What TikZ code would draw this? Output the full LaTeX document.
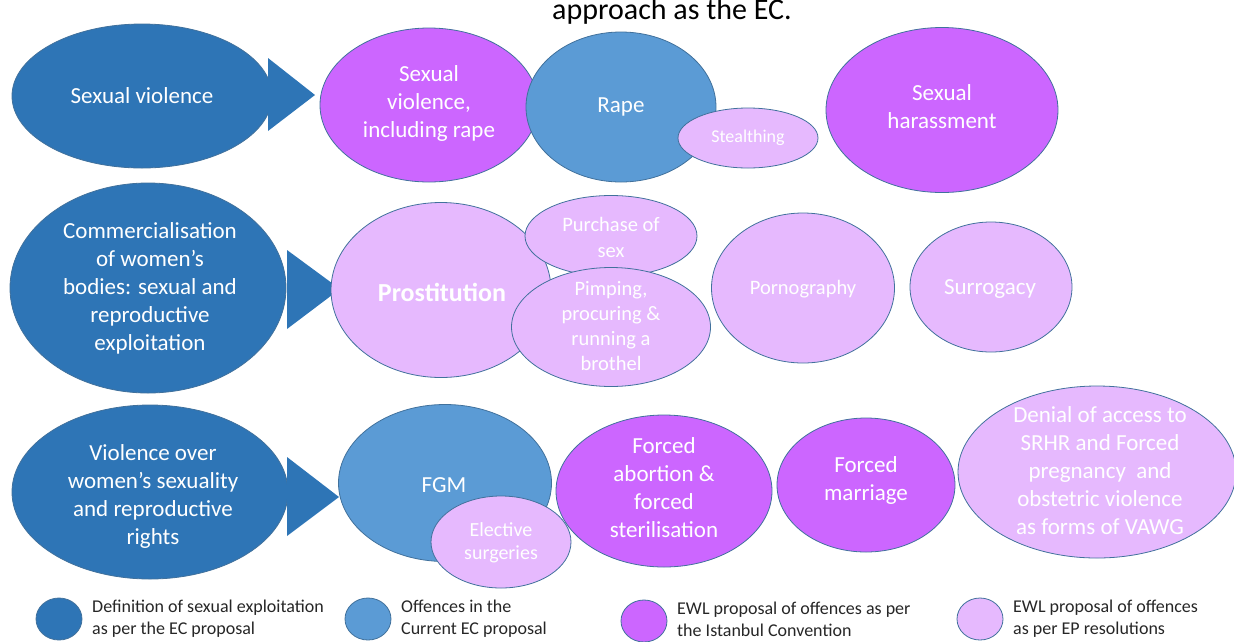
\documentclass[tikz,border=0pt]{standalone}
\usepackage{fontspec}
\setmainfont{Carlito}
\usetikzlibrary{shapes.geometric}
\definecolor{ecdark}{HTML}{2E75B6}
\definecolor{ecmid}{HTML}{5B9BD5}
\definecolor{ewlic}{HTML}{CC66FF}
\definecolor{ewlep}{HTML}{E6B9FE}
\definecolor{rim}{HTML}{41719C}

\begin{document}
\begin{tikzpicture}[x=1pt, y=-1pt,
	blob/.style={ellipse, draw=rim, line width=0.8pt, inner sep=0pt},
	txt/.style={text=white, align=center, inner sep=0pt, font=\fontsize{23}{28}\selectfont},
	small/.style={txt, font=\fontsize{20.5}{25}\selectfont},
	key/.style={blob, minimum width=46, minimum height=42},
	keytxt/.style={anchor=north west, align=left, inner sep=0pt, text=black!85, font=\fontsize{18}{22}\selectfont}]
		\useasboundingbox (0,0) rectangle (1234,641);
		\node[anchor=base, inner sep=0pt, font=\fontsize{30}{36}\selectfont] (title) at (672,19) {approach as the EC.};
		
		% first row
		\node[blob, fill=ecdark, minimum width=260, minimum height=144] (sv) at (142,96) {};
		\node[txt] (sv-t) at (sv) {Sexual violence};
		\fill[ecdark] (268,58) -- (315,95) -- (268,131) -- cycle;
		\node[blob, fill=ewlic, minimum width=218, minimum height=154] (svr) at (429,105) {};
		\node[txt] (svr-t) at (429,103) {Sexual\\violence,\\including rape};
		\node[blob, fill=ecmid, minimum width=190, minimum height=150] (rape) at (621,107) {};
		\node[txt] (rape-t) at (rape) {Rape};
		\node[blob, fill=ewlep, minimum width=140, minimum height=60] (stealth) at (748,138) {};
		\node[txt, font=\fontsize{18}{22}\selectfont] (stealth-t) at (stealth) {Stealthing};
		\node[blob, fill=ewlic, minimum width=232, minimum height=165] (harass) at (942,110) {};
		\node[txt] (harass-t) at (942,107) {Sexual\\harassment};
		
		% second row
		\node[blob, fill=ecdark, minimum width=276, minimum height=210] (comm) at (148,288) {};
		\node[txt] (comm-t) at (150,288) {Commercialisation\\of women’s\\bodies: sexual and\\reproductive\\exploitation};
		\fill[ecdark] (287,250) -- (340,289) -- (287,329) -- cycle;
		\node[blob, fill=ewlep, minimum width=220, minimum height=175] (prost) at (441,290) {};
		\node[txt, font=\fontsize{26}{30}\selectfont\bfseries] (prost-t) at (442,292) {Prostitution};
		\node[blob, fill=ewlep, minimum width=172, minimum height=81] (purch) at (611,236) {};
		\node[small, font=\fontsize{20.5}{26}\selectfont] (purch-t) at (611,237) {Purchase of\\sex};
		\node[blob, fill=ewlep, minimum width=199, minimum height=119] (pimp) at (611,327) {};
		\node[small] (pimp-t) at (611,326) {Pimping,\\procuring \&\\running a\\brothel};
		\node[blob, fill=ewlep, minimum width=183, minimum height=150] (porn) at (803,288) {};
		\node[small] (porn-t) at (803,289) {Pornography};
		\node[blob, fill=ewlep, minimum width=162, minimum height=130] (surr) at (991,287) {};
		\node[txt] (surr-t) at (990,289) {Surrogacy};
		
		% third row
		\node[blob, fill=ecdark, minimum width=276, minimum height=174] (viol) at (150,492) {};
		\node[txt] (viol-t) at (153,496) {Violence over\\women’s sexuality\\and reproductive\\rights};
		\fill[ecdark] (287,457) -- (339,497) -- (287,536) -- cycle;
		\node[blob, fill=ecmid, minimum width=213, minimum height=157] (fgm) at (445,483) {};
		\node[txt] (fgm-t) at (444,485) {FGM};
		\node[blob, fill=ewlep, minimum width=140, minimum height=92] (elect) at (501,542) {};
		\node[small, font=\fontsize{20}{23}\selectfont] (elect-t) at (501,543) {Elective\\surgeries};
		\node[blob, fill=ewlic, minimum width=216, minimum height=152] (abort) at (664,491) {};
		\node[txt] (abort-t) at (664,488) {Forced\\abortion \&\\forced\\sterilisation};
		\node[blob, fill=ewlic, minimum width=178, minimum height=134] (marr) at (866,485) {};
		\node[txt] (marr-t) at (866,480) {Forced\\marriage};
		\node[blob, fill=ewlep, minimum width=278, minimum height=172] (denial) at (1097,472) {};
		\node[txt] (denial-t) at (1100,471) {Denial of access to\\SRHR and Forced\\pregnancy\ \ and\\obstetric violence\\as forms of VAWG};
		
		% legend
		\node[key, fill=ecdark] (k1) at (59,619) {};
		\node[keytxt] (k1-t) at (92,600) {Definition of sexual exploitation\\as per the EC proposal};
		\node[key, fill=ecmid] (k2) at (368,619) {};
		\node[keytxt] (k2-t) at (401,600) {Offences in the\\Current EC proposal};
		\node[key, fill=ewlic] (k3) at (644,621) {};
		\node[keytxt] (k3-t) at (677,602) {EWL proposal of offences as per\\the Istanbul Convention};
		\node[key, fill=ewlep] (k4) at (980,619) {};
		\node[keytxt] (k4-t) at (1013,600) {EWL proposal of offences\\as per EP resolutions};
\end{tikzpicture}
\end{document}
